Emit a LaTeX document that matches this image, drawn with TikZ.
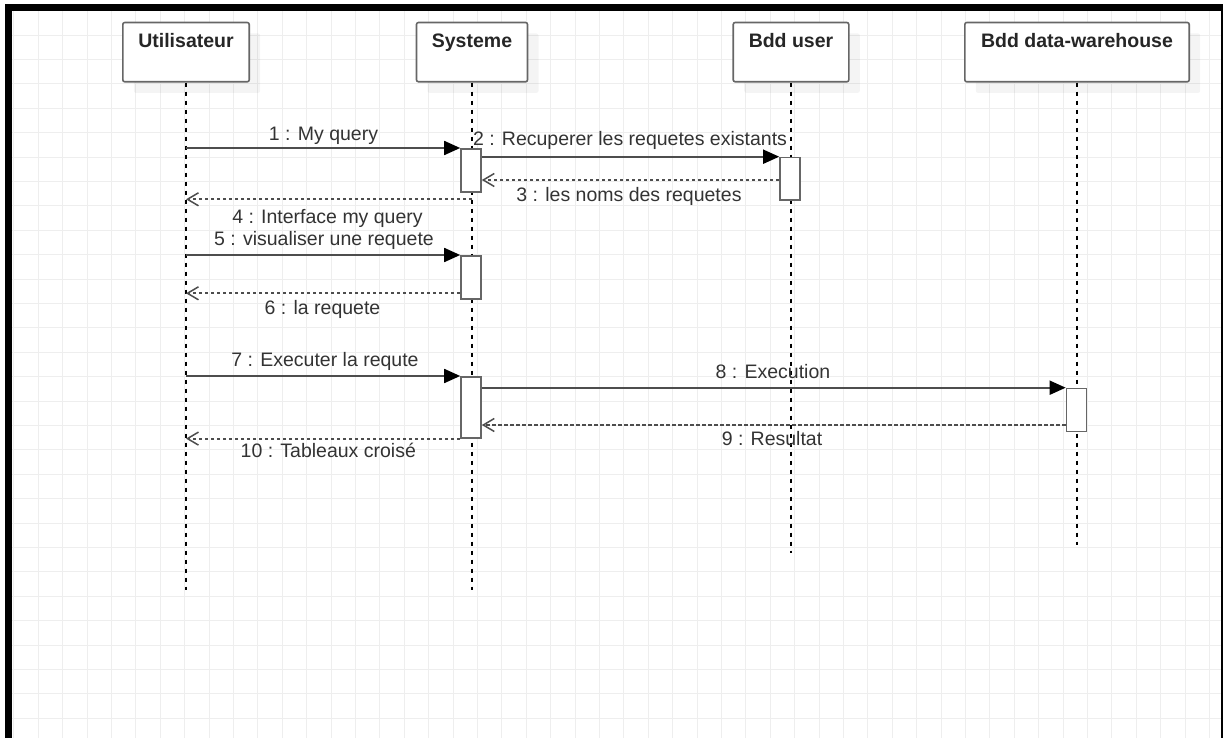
\documentclass[tikz,border=0pt]{standalone}
\usepackage{fontspec}
\setmainfont{Liberation Sans}
\usetikzlibrary{arrows.meta,calc,shadows}
\definecolor{gridc}{HTML}{EEEEEE}
\definecolor{linec}{HTML}{4D4D4D}
\definecolor{boxc}{HTML}{666666}
\definecolor{txtc}{HTML}{333333}
\begin{document}
\begin{tikzpicture}[x=1pt,y=-1pt,
  gridline/.style={gridc, line width=1pt},
  frame/.style={black, line width=7pt},
  headbox/.style={draw=boxc, line width=1.6pt, fill=white, rounded corners=2pt,
    minimum height=59.3pt, inner sep=0pt, anchor=north,
    drop shadow={shadow xshift=11pt, shadow yshift=-11pt, fill=black, opacity=0.045}},
  headtxt/.style={text=black!85, font=\fontsize{19.5}{22}\selectfont\bfseries, anchor=base, inner sep=0pt},
  lifeline/.style={black, line width=1.5pt, dash pattern=on 4pt off 5pt},
  act/.style={draw=boxc, line width=1.6pt, fill=white, minimum width=20pt, inner sep=0pt, anchor=north},
  msg/.style={linec, line width=1.7pt, -{Triangle[length=16pt,width=14pt,fill=black,color=black]}},
  ret/.style={linec, line width=1.8pt, dash pattern=on 3.5pt off 2.5pt, -{Straight Barb[length=11pt,width=13pt,line width=1.5pt]}},
  lbl/.style={text=txtc, font=\fontsize{19.5}{22}\selectfont, anchor=base, inner sep=0pt}
]
\useasboundingbox (0,0) rectangle (1223,738);
\fill[white] (0,0) rectangle (1223,738);

% background grid
\foreach \i in {0,...,49} { \draw[gridline] ({13.9+24.4*\i},11) -- ({13.9+24.4*\i},738); }
\foreach \j in {0,...,29} { \draw[gridline] (12,{10.7+24.4*\j}) -- (1221,{10.7+24.4*\j}); }

% outer frame
\draw[frame] (8.5,760) -- (8.5,8) -- (1224.5,8) -- (1224.5,760);

% lifeline heads
\node[headbox, minimum width=126.4pt] (U) at (186,21.7) {};
\node[headbox, minimum width=111pt]   (S) at (472,21.7) {};
\node[headbox, minimum width=115.6pt] (B) at (791,21.7) {};
\node[headbox, minimum width=224.4pt] (D) at (1077,21.7) {};
\node[headtxt] (Ut) at ($(U.north)+(0,26)$) {Utilisateur};
\node[headtxt] (St) at ($(S.north)+(0,26)$) {Systeme};
\node[headtxt] (Bt) at ($(B.north)+(0,26)$) {Bdd user};
\node[headtxt] (Dt) at ($(D.north)+(0,26)$) {Bdd data-warehouse};

% lifelines
\coordinate (Uend) at (186,590);
\coordinate (Send) at (472,590);
\coordinate (Bend) at (791,553);
\coordinate (Dend) at (1077,545);
\draw[lifeline] (U.south) -- (Uend);
\draw[lifeline] (S.south) -- (Send);
\draw[lifeline] (B.south) -- (Bend);
\draw[lifeline] (D.south) -- (Dend);

% activation bars
\node[act, minimum height=43pt]   (a1) at (471,148) {};
\node[act, minimum height=42.3pt] (a2) at (790,156.7) {};
\node[act, minimum height=43pt]   (a3) at (471,255) {};
\node[act, minimum height=61pt]   (a4) at (471,376) {};
\node[act, minimum height=43pt]   (a5) at (1076.5,387.7) {};

% levels of the return messages
\coordinate (y3) at (0,180);
\coordinate (y4) at (0,199.3);
\coordinate (y6) at (0,293.3);
\coordinate (y9) at (0,425);

% messages
\draw[msg] (U.south |- a1.north) -- (a1.north west);
\draw[msg] (a1.east |- a2.north) -- (a2.north west);
\draw[ret] (a2.west |- y3) -- (a1.east |- y3);
\draw[ret] (S.south |- y4) -- (U.south |- y4);
\draw[msg] (U.south |- a3.north) -- (a3.north west);
\draw[ret] (a3.west |- y6) -- (U.south |- y6);
\draw[msg] (U.south |- a4.north) -- (a4.north west);
\draw[msg] (a4.east |- a5.north) -- (a5.north west);
\draw[ret] (a5.west |- y9) -- (a4.east |- y9);
\draw[ret] (a4.south west) -- (U.south |- a4.south);

% message labels
\node[lbl] (l1) at (323.5,140.7) {1 : My query};
\node[lbl] (l2) at (630,146) {2 : Recuperer les requetes existants};
\node[lbl] (l3) at (629,201) {3 : les noms des requetes};
\node[lbl] (l4) at (327.5,223.3) {4 : Interface my query};
\node[lbl] (l5) at (324,245.7) {5 : visualiser une requete};
\node[lbl] (l6) at (322.5,314.3) {6 : la requete};
\node[lbl] (l7) at (325,366) {7 : Executer la requte};
\node[lbl] (l8) at (773,378.3) {8 : Execution};
\node[lbl] (l9) at (772,445) {9 : Resultat};
\node[lbl] (l10) at (328.3,457.7) {10 : Tableaux croisé};
\end{tikzpicture}
\end{document}
